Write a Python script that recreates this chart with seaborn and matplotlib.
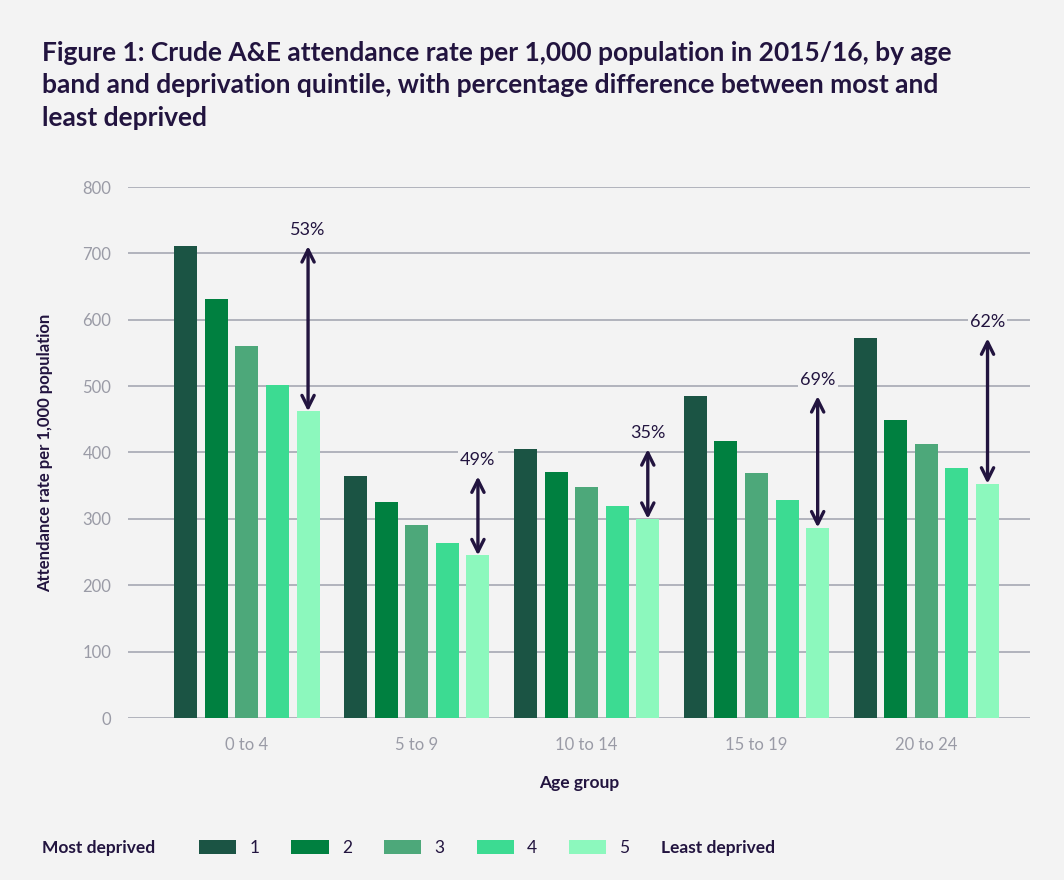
import matplotlib
matplotlib.use("Agg")
import matplotlib.pyplot as plt
import seaborn as sns
import pandas as pd

# Crude A&E attendance rate per 1,000 population, 2015/16
age_groups = ["0 to 4", "5 to 9", "10 to 14", "15 to 19", "20 to 24"]
quintiles = ["1", "2", "3", "4", "5"]
q1_rates = [711, 364, 405, 485, 572]
q2_rates = [631, 325, 370, 417, 449]
q3_rates = [560, 291, 348, 369, 413]
q4_rates = [502, 264, 319, 328, 377]
q5_rates = [462, 245, 300, 287, 353]
pct_diff = ["53%", "49%", "35%", "69%", "62%"]

palette = ["#1b5444", "#008040", "#4da87a", "#3cdb92", "#8cf8bd"]
BG = "#f3f3f3"
INK = "#22143f"
GRID = "#a6a8b3"
TICK = "#9a9ba6"

rows = []
for q, vals in zip(quintiles, [q1_rates, q2_rates, q3_rates, q4_rates, q5_rates]):
    for a, v in zip(age_groups, vals):
        rows.append({"Age group": a, "Quintile": q, "Rate": v})
df = pd.DataFrame(rows)

sns.set_theme(style="white")
plt.rcParams["font.family"] = ["Lato", "DejaVu Sans"]

fig = plt.figure(figsize=(10.64, 8.8), dpi=100, facecolor=BG)
ax = fig.add_axes([128 / 1064, 1 - 718 / 880, (1030 - 128) / 1064, (718 - 187) / 880])
ax.set_facecolor(BG)

sns.barplot(data=df, x="Age group", y="Rate", hue="Quintile", hue_order=quintiles,
            order=age_groups, palette=palette, saturation=1, width=0.9, gap=0.25,
            linewidth=0, edgecolor="none", ax=ax, zorder=3)

ax.set_ylim(0, 800)
ax.set_xlim(-0.7, 4.61)
ax.set_yticks(range(0, 801, 100))
ax.yaxis.grid(True, color=GRID, linewidth=1.2, zorder=0)
ax.set_axisbelow(True)
for s in ax.spines.values():
    s.set_visible(False)
ax.tick_params(axis="y", length=0, pad=12, labelsize=12, labelcolor=TICK)
ax.tick_params(axis="x", length=0, pad=14, labelsize=12, labelcolor=TICK)

ax.set_ylabel("Attendance rate per 1,000 population", fontsize=12, fontweight="bold", color=INK)
ax.yaxis.set_label_coords(-0.083, 0.5)
ax.set_xlabel("Age group", fontsize=12.5, fontweight="bold", color=INK)
ax.xaxis.set_label_coords(0.5, -0.107)

# Arrows between most and least deprived, drawn at the quintile-5 bar
slot = 0.9 / 5
for i, (hi, lo, lab) in enumerate(zip(q1_rates, q5_rates, pct_diff)):
    x = i + 2 * slot
    ax.annotate("", xy=(x, lo), xytext=(x, hi),
                arrowprops=dict(arrowstyle="<->", color=INK, lw=2.4,
                                mutation_scale=22, shrinkA=0, shrinkB=0),
                zorder=5)
    ax.text(x, hi + 12, lab, ha="center", va="bottom", fontsize=13, color=INK,
            bbox=dict(facecolor=BG, edgecolor="none", pad=1.5), zorder=6)

# Legend along the bottom
sns.move_legend(ax, "center left", bbox_to_anchor=(199 / 1064, 1 - 848 / 880),
                bbox_transform=fig.transFigure, ncol=5, frameon=False, title=None,
                fontsize=12.5, handlelength=2.15, handleheight=0.8,
                handletextpad=0.75, columnspacing=1.85, borderpad=0, borderaxespad=0)
for t in ax.get_legend().get_texts():
    t.set_color(INK)

fig.text(42 / 1064, 1 - 848 / 880, "Most deprived", ha="left", va="center",
         fontsize=12.5, fontweight="bold", color=INK)
fig.text(661 / 1064, 1 - 848 / 880, "Least deprived", ha="left", va="center",
         fontsize=12.5, fontweight="bold", color=INK)

fig.text(42 / 1064, 1 - 41 / 880,
         "Figure 1: Crude A&E attendance rate per 1,000 population in 2015/16, by age\n"
         "band and deprivation quintile, with percentage difference between most and\n"
         "least deprived",
         ha="left", va="top", fontsize=19, fontweight="bold", color=INK, linespacing=1.42)

fig.savefig("out.png", dpi=100, facecolor=BG)
